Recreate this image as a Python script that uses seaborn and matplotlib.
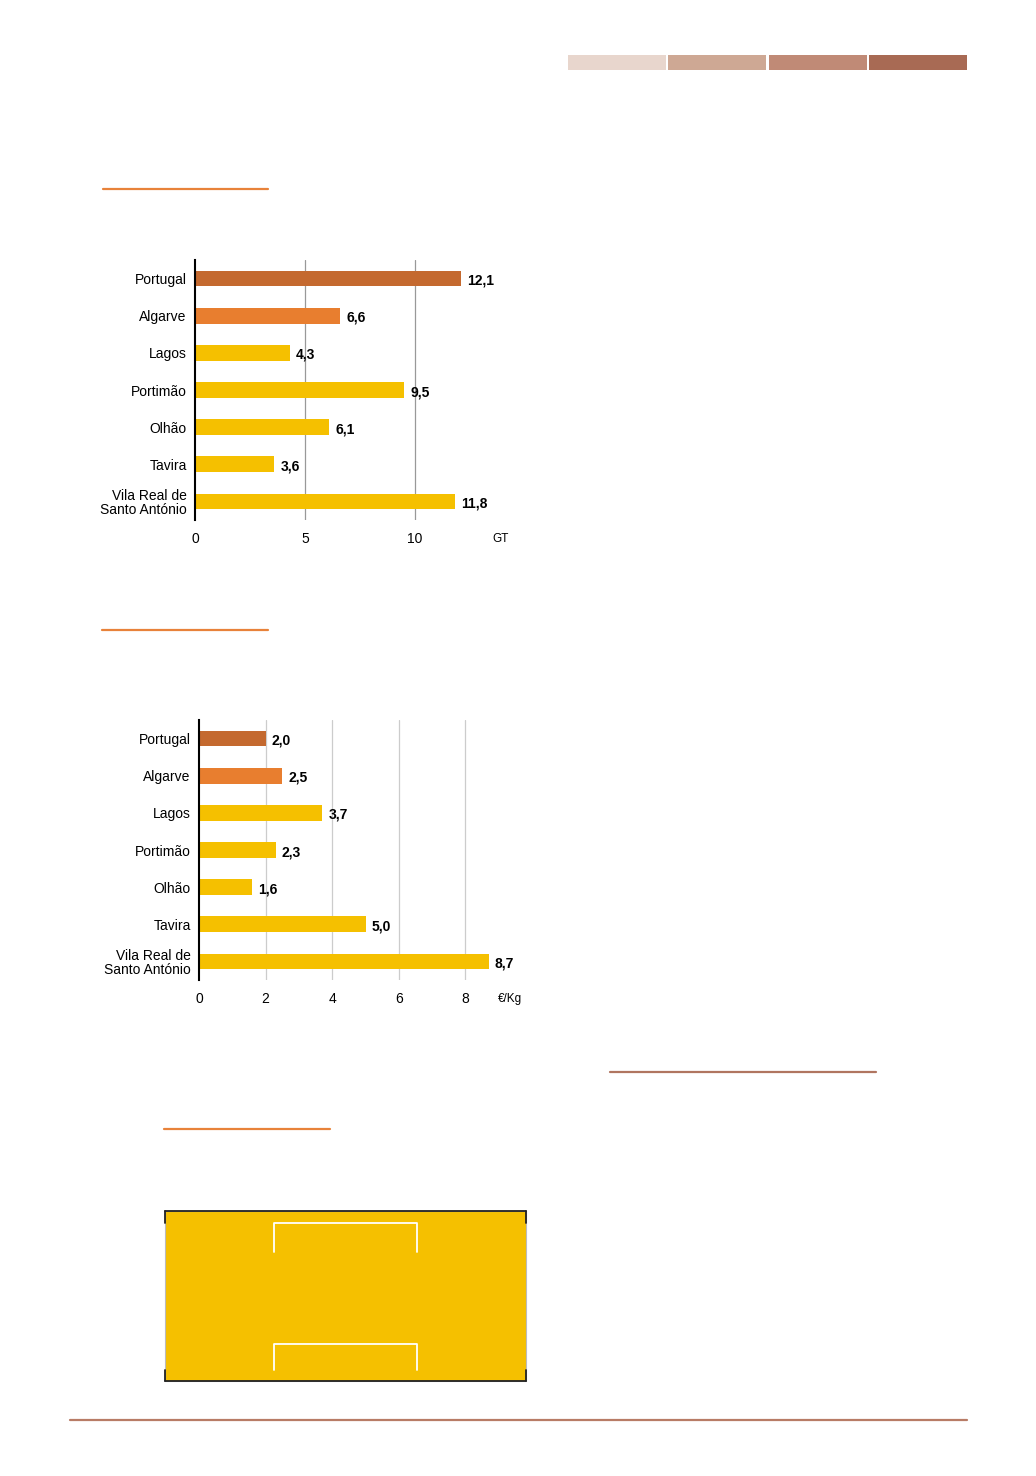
import matplotlib
matplotlib.use("Agg")
import matplotlib.pyplot as plt
import seaborn as sns

# --------------------------------
# Data
# --------------------------------
regions = ["Portugal", "Algarve", "Lagos", "Portimão", "Olhão", "Tavira",
           "Vila Real de\nSanto António"]
gt_values = [12.1, 6.6, 4.3, 9.5, 6.1, 3.6, 11.8]
price_values = [2.0, 2.5, 3.7, 2.3, 1.6, 5.0, 8.7]
gt_ticks = [0, 5, 10]
price_ticks = [0, 2, 4, 6, 8]

bar_colors = ["#C4692F", "#E87E2F", "#F5C000", "#F5C000", "#F5C000",
              "#F5C000", "#F5C000"]
header_colors = ["#E8D6CD", "#CEA894", "#C08A76", "#A86A54"]

W, H = 1036, 1476
DPI = 100

sns.set_style("white")
plt.rcParams["font.family"] = ["Liberation Sans", "DejaVu Sans"]
plt.rcParams["text.color"] = "black"
plt.rcParams["xtick.color"] = "black"
plt.rcParams["ytick.color"] = "black"

fig = plt.figure(figsize=(W / DPI, H / DPI), dpi=DPI)

# page-level decoration axes in pixel coordinates
page = fig.add_axes([0, 0, 1, 1])
page.set_xlim(0, W)
page.set_ylim(H, 0)
page.axis("off")

# header blocks
for i, c in enumerate(header_colors):
    x0 = 568 + i * 100.3
    page.add_patch(plt.Rectangle((x0, 55), 98, 15, color=c, lw=0))

# section rules
page.plot([103, 268], [189, 189], color="#E8823A", lw=1.6)
page.plot([102, 268], [630, 630], color="#E8823A", lw=1.6)
page.plot([164, 330], [1129, 1129], color="#E8823A", lw=1.6)
page.plot([610, 876], [1072, 1072], color="#B07560", lw=1.6)
page.plot([70, 967], [1420, 1420], color="#B87C66", lw=1.6)

# yellow box with brackets
page.add_patch(plt.Rectangle((165, 1211), 361, 170, facecolor="#F5C000",
                             edgecolor="#BBBBBB", lw=0.8))
page.plot([165, 526], [1211, 1211], color="#222222", lw=1.3)
page.plot([165, 526], [1381, 1381], color="#222222", lw=1.3)
for x in (165, 526):
    page.plot([x, x], [1211, 1223], color="#222222", lw=1.3)
    page.plot([x, x], [1370, 1381], color="#222222", lw=1.3)
for y_top, y_bot in ((1223, 1252), (1344, 1370)):
    page.plot([274, 274, 417, 417], [y_bot, y_top, y_top, y_bot],
              color="white", lw=1.3)


def px_axes(left, top, width, height):
    return fig.add_axes([left / W, 1 - (top + height) / H, width / W, height / H])


def bar_chart(ax, values, ticks, xmax, grid_color, unit, unit_x):
    sns.barplot(x=values, y=regions, hue=regions, palette=bar_colors,
                orient="h", width=0.42, legend=False, ax=ax,
                saturation=1, linewidth=0)
    ax.set_xlim(0, xmax)
    ax.set_ylim(6.5, -0.5)
    ax.set_xticks(ticks)
    ax.set_xticklabels([str(t) for t in ticks], fontsize=10)
    ax.tick_params(axis="both", length=0)
    ax.tick_params(axis="x", pad=8.5)
    ax.tick_params(axis="y", pad=6, labelsize=10)
    for lab in ax.get_yticklabels():
        lab.set_linespacing(1.05)
    for t in ticks[1:]:
        ax.axvline(t, color=grid_color, lw=0.9, zorder=0)
    for s in ("top", "right", "bottom"):
        ax.spines[s].set_visible(False)
    ax.spines["left"].set_color("black")
    ax.spines["left"].set_linewidth(1.5)
    ax.set_xlabel("")
    ax.set_ylabel("")
    ax.set_facecolor("none")
    for i, v in enumerate(values):
        ax.annotate(f"{v:.1f}".replace(".", ","), (v, i),
                    xytext=(4.5, -1.5), textcoords="offset points",
                    ha="left", va="center", fontsize=10, fontweight="bold")
    ax.text(unit_x, -19 / 260, unit, transform=ax.get_xaxis_transform(),
            ha="center", va="center", fontsize=8.5)


ax1 = px_axes(195, 260, 320, 260)
bar_chart(ax1, gt_values, gt_ticks, 320 / 22, "#999999", "GT", 13.9)

ax2 = px_axes(199, 720, 333, 260)
bar_chart(ax2, price_values, price_ticks, 10, "#CCCCCC", "€/Kg", 9.35)

fig.savefig("out.png", dpi=DPI)
